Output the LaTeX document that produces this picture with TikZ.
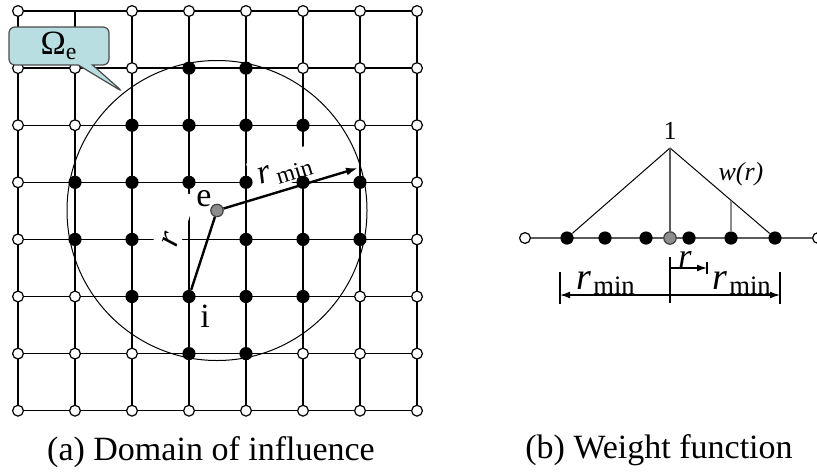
\documentclass[tikz,border=0pt]{standalone}
\usepackage{fontspec}
\setmainfont{Liberation Serif}
\usepackage{tikz}
\usetikzlibrary{arrows.meta,positioning,shapes.callouts}
\definecolor{callx}{HTML}{B8DEE1}
\definecolor{grayx}{HTML}{8C8C8C}
\definecolor{linex}{HTML}{5A5A5A}
\tikzset{
  gr/.style={line width=0.7pt},
  cir/.style={line width=0.5pt},
  op/.style={circle,draw,fill=white,line width=0.6pt,inner sep=0pt,minimum size=5.4pt},
  fl/.style={circle,fill=black,inner sep=0pt,minimum size=6.6pt},
  gy/.style={circle,draw=black!75,fill=grayx,line width=0.6pt,inner sep=0pt,minimum size=6.2pt},
  thk/.style={line width=1.2pt},
  ar/.style={-{Latex[length=6pt,width=4pt]},line width=1.2pt},
  dim/.style={-{Latex[length=5pt,width=3.4pt]},line width=0.6pt},
  tk/.style={line width=0.6pt},
  tri/.style={line width=0.5pt},
  ax/.style={line width=0.7pt,linex},
  lb/.style={font=\fontsize{17}{20}\selectfont,inner sep=1pt},
  bg/.style={font=\fontsize{19}{22}\selectfont,inner sep=1pt},
  sm/.style={font=\fontsize{13}{15}\selectfont,inner sep=1pt},
  call/.style={rectangle callout,draw=black!70,fill=callx,line width=0.6pt,rounded corners=3pt,minimum width=50pt,minimum height=19pt}
}

\begin{document}
\begin{tikzpicture}[x=0.5pt,y=-0.5pt]
\useasboundingbox (0,0) rectangle (817,472);
\foreach \c in {0,...,7}
  \foreach \r in {0,...,7}
    \coordinate (p\c\r) at ({18+57*\c},{11+57.1*\r});
\foreach \k in {0,...,7} {
  \draw[gr] (p0\k) -- (p7\k);
  \draw[gr] (p\k0) -- (p\k7);
}
\node[gy] (e) at (217,210.5) {};
\draw[cir] (e.center) circle[radius=150];
\node[fl] (i) at (p35) {};
\coordinate (rm) at (358,168);
\draw[thk] (i) -- node[lb,pos=0.79,sloped,above=11.5pt,fill=white,inner xsep=2pt,inner ysep=1pt,text width=26pt,text height=11.5pt,text depth=0pt,align=left] {\textit{r}} (e);
\draw[ar] (e) -- node[lb,pos=0.5,sloped,above=2pt,fill=white,inner xsep=4pt,inner ysep=1pt,text height=11pt] {\textit{r}\kern2pt\textsubscript{min}} (rm);
\foreach \r/\cs in {0/{0,2,3,4,5,6,7},1/{0,1,2,5,6,7},2/{0,1,6,7},3/{0,7},4/{0,7},5/{0,1,6,7},6/{0,1,2,5,6,7},7/{0,...,7}}
  \foreach \c in \cs
    \node[op] (n\c\r) at (p\c\r) {};
\foreach \r/\cs in {1/{3,4},2/{2,3,4,5},3/{1,2,3,4,5,6},4/{1,2,4,5,6},5/{2,4,5},6/{3,4}}
  \foreach \c in \cs
    \node[fl] (n\c\r) at (p\c\r) {};
\node[lb] (el) at (204,199) {e};
\node[lb] (il) at (205,316) {i};
\node[call,lb,callout absolute pointer={(123,92)}] (om) at (59,46) {Ω\textsubscript{e}};

\node[op] (bl) at (525,238) {};
\node[op] (br) at (818,238) {};
\draw[ax] (bl) -- (br);
\foreach \n/\x in {1/567,2/605,3/646,4/689,5/731,6/775}
  \node[fl] (a\n) at (\x,238) {};
\node[gy] (w0) at (670,238) {};
\coordinate (top) at (670,148);
\draw[tri] (a1) -- (top) -- (a6);
\draw[ax] (top) -- (w0);
\coordinate (wr) at (731,200.5);
\draw[ax,grayx] (wr) -- (a5);
\node[sm] (one) at (670,131) {1};
\node[sm] (wlab) at (741,174) {\textit{w(r)}};
\coordinate (d0) at (670,295);
\coordinate (dl) at (560,295);
\coordinate (dr) at (780,295);
\coordinate (c0a) at (670,257);
\coordinate (c0b) at (670,303);
\coordinate (cla) at (560,272);
\coordinate (clb) at (560,304);
\coordinate (cra) at (780,272);
\coordinate (crb) at (780,304);
\draw[tk] (c0a) -- (c0b);
\draw[tk] (cla) -- (clb);
\draw[tk] (cra) -- (crb);
\draw[dim] (d0) -- (dl);
\draw[dim] (d0) -- (dr);
\coordinate (ra) at (670,268);
\coordinate (rb) at (707,268);
\coordinate (rta) at (707,262);
\coordinate (rtb) at (707,274);
\draw[dim] (ra) -- (rb);
\draw[tk] (rta) -- (rtb);
\node[lb] (rl) at (685,259) {\textit{r}};
\node[bg,anchor=base west] (rml) at (574,289) {\textit{r}\kern1pt\textsubscript{min}};
\node[bg,anchor=base west] (rmr) at (710,289) {\textit{r}\kern1pt\textsubscript{min}};

\node[lb,anchor=base] (capa) at (211,460) {(a) Domain of influence};
\node[lb,anchor=base] (capb) at (659,458) {(b) Weight function};
\end{tikzpicture}
\end{document}
